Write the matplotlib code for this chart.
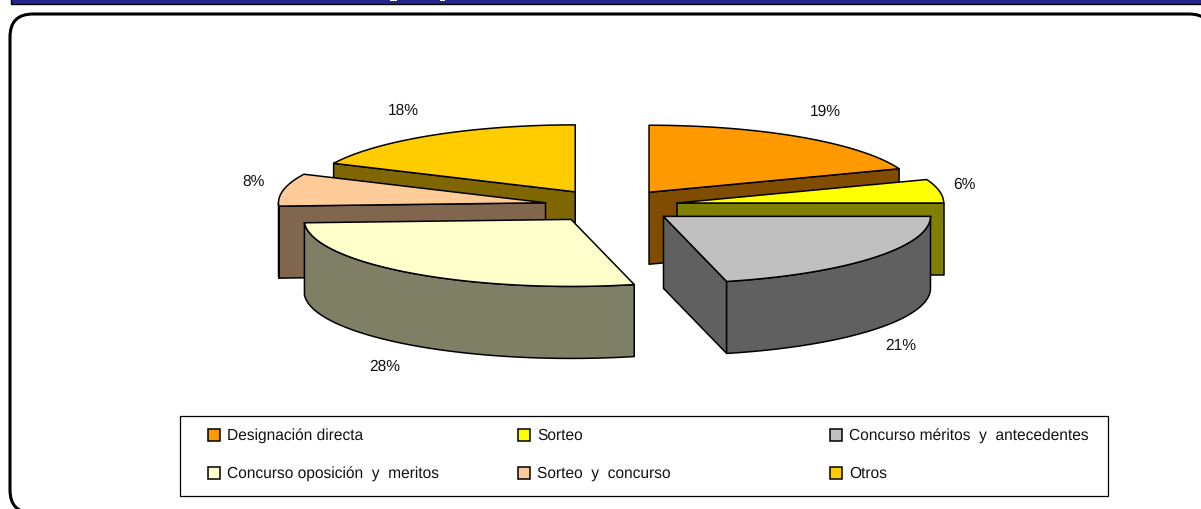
import numpy as np
from matplotlib import pyplot as plt
from matplotlib.patches import Polygon, Rectangle, FancyBboxPatch

plt.rcParams['text.hinting'] = 'no_hinting'

# Data (labels show these rounded)
categories = ['Designación directa', 'Sorteo', 'Concurso méritos  y  antecedentes',
              'Concurso oposición  y  meritos', 'Sorteo  y  concurso', 'Otros']
values = [19.3, 5.7, 21.2, 28.0, 7.8, 18.0]
colors = ['#FF9900', '#FFFF00', '#C0C0C0', '#FFFFCC', '#FFCC99', '#FFCC00']

# Layout, in pixels of the picture
cx, cy = 611, 206
rx, ry = 267, 67
depth = 72
explode = 0.25
label_pos = [(825, 112), (964, 185), (901, 346), (385, 367), (254, 182), (403, 111)]
legend_x = [208, 518, 830]
legend_y = [436, 474]
font = 'Liberation Sans'
fsize = 11.2


def darker(hex_color):
    r, g, b = [int(hex_color[i:i + 2], 16) for i in (1, 3, 5)]
    return '#%02X%02X%02X' % (r // 2, g // 2, b // 2)


def rim(ax0, ay0, t0, t1):
    # points on the outer edge, angles clockwise from the top, in degrees
    t = np.radians(np.linspace(t0, t1, max(2, int(abs(t1 - t0)) + 1)))
    return np.column_stack([ax0 + rx * np.sin(t), ay0 - ry * np.cos(t)])


def face(ax, pts, color, z):
    ax.add_patch(Polygon(pts, closed=True, facecolor=color, edgecolor='black',
                         linewidth=1.1, joinstyle='round', zorder=z))


def draw_slice(ax, start, end, color, z):
    mid = np.radians((start + end) / 2)
    ax0 = cx + explode * rx * np.sin(mid)
    ay0 = cy - explode * ry * np.cos(mid)
    apex = np.array([ax0, ay0])
    down = np.array([0, depth])
    side = darker(color)

    # cut faces that look towards the viewer
    for t, visible in ((start, np.sin(np.radians(start)) < -1e-6),
                       (end, np.sin(np.radians(end)) > 1e-6)):
        if visible:
            p = rim(ax0, ay0, t, t)[0]
            face(ax, [apex, p, p + down, apex + down], side, z)

    # outer wall, front half only
    a, b = max(start, 90), min(end, 270)
    if a < b:
        arc = rim(ax0, ay0, a, b)
        face(ax, np.vstack([arc, (arc + down)[::-1]]), side, z + 0.1)

    face(ax, np.vstack([apex, rim(ax0, ay0, start, end)]), color, z + 0.2)


fig = plt.figure(figsize=(12.01, 5.09), dpi=100)
ax = fig.add_axes([0, 0, 1, 1])
ax.set_xlim(0, 1201)
ax.set_ylim(509, 0)
ax.axis('off')

# Page furniture around the chart
ax.add_patch(Rectangle((11, -2), 1200, 5.5, facecolor='#24248F', edgecolor='black', linewidth=1))
for x0, w in ((390, 7), (440, 5)):
    ax.add_patch(Rectangle((x0, -1), w, 2, facecolor='white', edgecolor='none', zorder=2))
ax.add_patch(FancyBboxPatch((10, 14), 1202, 499, boxstyle='round,pad=0,rounding_size=23',
                            facecolor='white', edgecolor='black', linewidth=2.2))

# Back slices first
edges = np.cumsum([0] + values) * 3.6
mids = (edges[:-1] + edges[1:]) / 2
order = np.argsort(-np.cos(np.radians(mids)), kind='stable')
for n, i in enumerate(order):
    draw_slice(ax, edges[i], edges[i + 1], colors[i], 3 + n)

for v, (x, y) in zip(values, label_pos):
    ax.text(x, y, '%d%%' % round(v), family=font, fontsize=fsize, ha='center', va='center',
            color='#111111', zorder=20)

# Legend
ax.add_patch(Rectangle((180, 416), 928, 80, facecolor='white', edgecolor='black',
                       linewidth=0.9, zorder=20))
for i, name in enumerate(categories):
    x = legend_x[i % 3]
    y = legend_y[i // 3]
    ax.add_patch(Rectangle((x, y - 7), 12, 12, facecolor=colors[i], edgecolor='black',
                           linewidth=1.1, zorder=21))
    ax.text(x + 19, y, name, family=font, fontsize=fsize, ha='left', va='center',
            color='#111111', zorder=21)

fig.savefig('out.png', dpi=100)
